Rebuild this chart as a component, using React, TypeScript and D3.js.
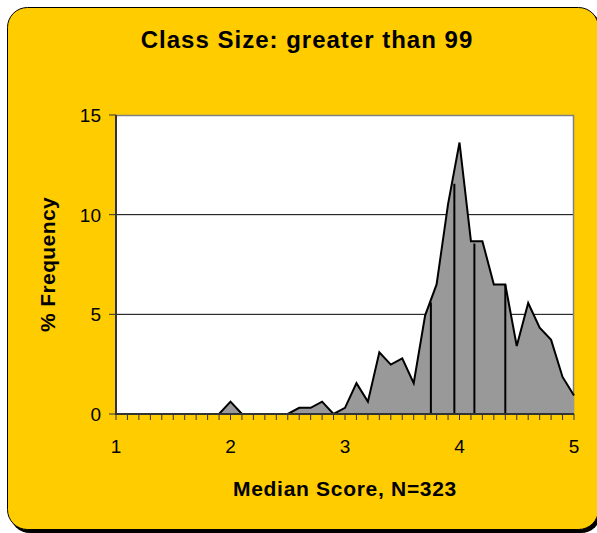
import React from "react";
import * as d3 from "d3";

const scores = [
  1.0, 1.1, 1.2, 1.3, 1.4, 1.5, 1.6, 1.7, 1.8, 1.9,
  2.0, 2.1, 2.2, 2.3, 2.4, 2.5, 2.6, 2.7, 2.8, 2.9,
  3.0, 3.1, 3.2, 3.3, 3.4, 3.5, 3.6, 3.7, 3.8, 3.9,
  4.0, 4.1, 4.2, 4.3, 4.4, 4.5, 4.6, 4.7, 4.8, 4.9,
  5.0,
];
const frequency = [
  0, 0, 0, 0, 0, 0, 0, 0, 0, 0,
  0.62, 0, 0, 0, 0, 0, 0.31, 0.31, 0.62, 0,
  0.31, 1.55, 0.62, 3.1, 2.48, 2.79, 1.55, 4.95, 6.5, 10.53,
  13.62, 8.67, 8.67, 6.5, 6.5, 3.41, 5.57, 4.33, 3.72, 1.86,
  0.93,
];
const markerScores = [3.75, 3.955, 4.13, 4.4];
const markerHeights = [5.6, 11.55, 8.55, 6.5];
const yTicks = [0, 5, 10, 15];
const xTickLabels = [1, 2, 3, 4, 5];

const W = 597;
const H = 533;
const left = 116;
const right = 574;
const top = 115;
const bottom = 414;

export default function App() {
  const x = d3.scaleLinear().domain([1, 5]).range([left, right]);
  const y = d3.scaleLinear().domain([0, 15]).range([bottom, top]);
  const pts = scores.map((s, i) => [s, frequency[i]] as [number, number]);
  const area = d3
    .area<[number, number]>()
    .x((d) => x(d[0]))
    .y0(y(0))
    .y1((d) => y(d[1]))(pts) as string;
  const line = d3
    .line<[number, number]>()
    .x((d) => x(d[0]))
    .y((d) => y(d[1]))(pts) as string;

  return (
    <>
      <style>{`body{margin:0}`}</style>
      <svg width={W} height={H} style={{ display: "block" }} fontFamily="Arial, 'Liberation Sans', sans-serif">
        <rect x={10} y={10} width={591} height={523} rx={20} fill="#000" />
        <rect x={7.5} y={7.5} width={591} height={522} rx={20} fill="#FFCC00" stroke="#000" strokeWidth={1} />
        <text x={307} y={48} textAnchor="middle" fontWeight="bold" fontSize={24} letterSpacing={1.0}>
          Class Size: greater than 99
        </text>
        <rect x={left} y={top} width={right - left} height={bottom - top} fill="#fff" />
        {yTicks
          .filter((t) => t > 0 && t < 15)
          .map((t) => (
            <line key={t} x1={left} x2={right} y1={y(t)} y2={y(t)} stroke="#000" strokeWidth={1} />
          ))}
        <path d={`M${left},${top + 0.5}H${right - 0.5}V${bottom}`} fill="none" stroke="#808080" strokeWidth={1.5} />
        <path d={area} fill="#999999" />
        <path d={line} fill="none" stroke="#000" strokeWidth={2} strokeLinejoin="miter" />
        {markerScores.map((s, i) => (
          <line key={s} x1={x(s)} x2={x(s)} y1={y(0)} y2={y(markerHeights[i])} stroke="#000" strokeWidth={2} />
        ))}
        <line x1={left} x2={left} y1={top} y2={bottom + 1} stroke="#333" strokeWidth={2} />
        {yTicks.map((t) => (
          <g key={t}>
            <line x1={left - 7} x2={left} y1={y(t)} y2={y(t)} stroke="#333" strokeWidth={1} />
            <text x={101} y={y(t) + 7} textAnchor="end" fontSize={19}>
              {t}
            </text>
          </g>
        ))}
        <line x1={left} x2={right} y1={bottom} y2={bottom} stroke="#333" strokeWidth={2} />
        {scores.map((s) => (
          <line key={s} x1={x(s)} x2={x(s)} y1={bottom} y2={bottom + 6} stroke="#333" strokeWidth={1} />
        ))}
        {xTickLabels.map((t) => (
          <text key={t} x={x(t)} y={453} textAnchor="middle" fontSize={19}>
            {t}
          </text>
        ))}
        <text x={345} y={496} textAnchor="middle" fontWeight="bold" fontSize={21} letterSpacing={0.7}>
          Median Score, N=323
        </text>
        <text
          transform={`translate(55,${(top + bottom) / 2}) rotate(-90)`}
          textAnchor="middle"
          fontWeight="bold"
          fontSize={21}
          letterSpacing={0.4}
        >
          % Frequency
        </text>
      </svg>
    </>
  );
}
